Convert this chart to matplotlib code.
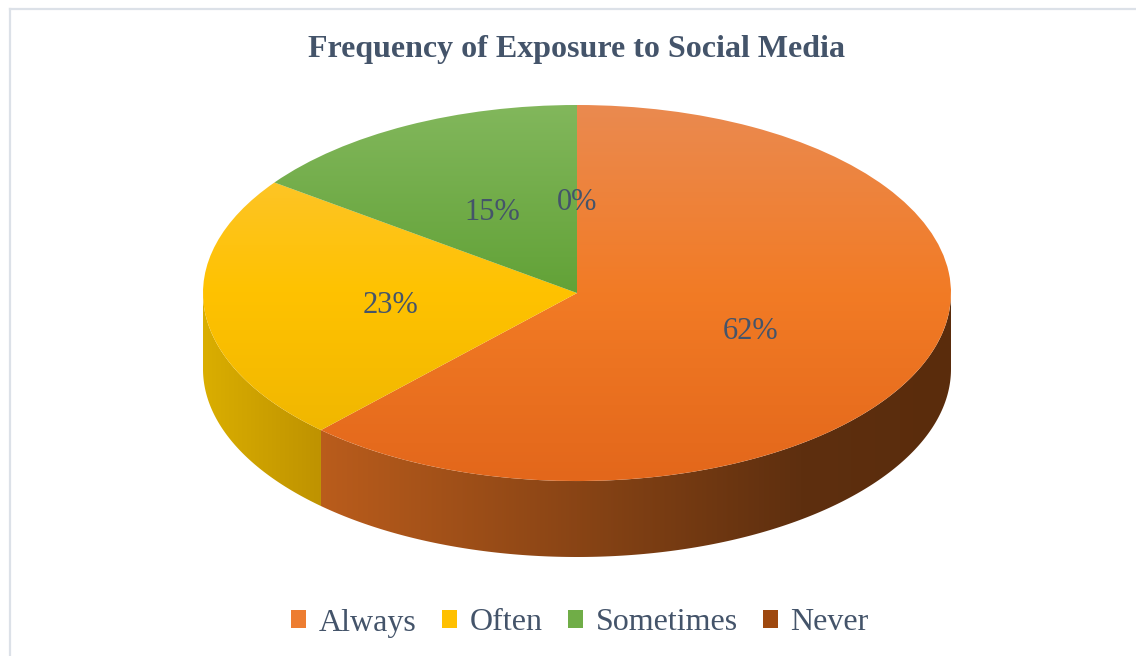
import matplotlib.pyplot as plt
import numpy as np
from matplotlib.colors import to_rgb, LinearSegmentedColormap
from matplotlib.patches import Polygon, Patch
from matplotlib.lines import Line2D

# survey answers (percent of respondents)
categories = ["Always", "Often", "Sometimes", "Never"]
shares = [62, 23, 15, 0]
colors = ["#ED7D31", "#FFC000", "#70AD47", "#9E480E"]
title = "Frequency of Exposure to Social Media"

text_color = "#44546A"
plt.rcParams["font.family"] = ["Liberation Serif", "DejaVu Serif"]

W, H = 1136, 656
fig = plt.figure(figsize=(W / 100, H / 100), dpi=100)

# pie is a unit circle squashed into an ellipse, with a wall of depth d below it
d = 0.404
ax = fig.add_axes([203 / W, (H - 557) / H, 748 / W, 452 / H])

wedges, _, autotexts = ax.pie(
    shares, colors=colors, startangle=90, counterclock=False,
    autopct="%.0f%%", pctdistance=0.5,
    wedgeprops=dict(linewidth=0),
    textprops=dict(color=text_color, fontsize=22),
)

# vertical shading on the top faces (top edge, centre line, front edge)
top_shades = {
    "Always": ["#EA8A50", "#F27B25", "#E3671B"],
    "Often": ["#FCC640", "#FFC200", "#EBB300"],
    "Sometimes": ["#82B75C", "#62A237", "#5A9A30"],
    "Never": ["#B0551A", "#9E480E", "#8A3E0C"],
}
for w, name in zip(wedges, categories):
    cmap = LinearSegmentedColormap.from_list("top", top_shades[name])
    grad = np.linspace(0, 1, 256).reshape(-1, 1)
    im = ax.imshow(grad, cmap=cmap, extent=(-1, 1, -1, 1), aspect="auto",
                   origin="upper", zorder=w.get_zorder())
    im.set_clip_path(w)
    w.set_facecolor("none")

# side walls: only the front half of the rim (angles between -180 and 0) shows
wall_stops = {
    "Always": [(-0.70, "#BB5D1C"), (0.60, "#5E2F0F"), (1.0, "#5A2C0C")],
    "Often": [(-1.0, "#DAAE00"), (-0.68, "#BE9200")],
    "Sometimes": [(-1.0, "#5E9A35"), (1.0, "#4A7A2A")],
    "Never": [(-1.0, "#9E480E"), (1.0, "#6A300A")],
}
fractions = np.array(shares) / np.sum(shares)
edges = 90 - 360 * np.concatenate([[0], np.cumsum(fractions)])
for i, name in enumerate(categories):
    a_start, a_end = edges[i + 1], edges[i]
    lo, hi = max(a_start, -180), min(a_end, 0)
    if hi <= lo:
        continue
    t = np.radians(np.linspace(lo, hi, 200))
    top = np.column_stack([np.cos(t), np.sin(t)])
    bottom = np.column_stack([np.cos(t), np.sin(t) - d])[::-1]
    poly = Polygon(np.vstack([top, bottom]), closed=True, fc="none", lw=0)
    ax.add_patch(poly)
    stops = wall_stops[name]
    xs = np.linspace(-1, 1, 512)
    pos = [s[0] for s in stops]
    rgb = np.array([to_rgb(s[1]) for s in stops])
    row = np.column_stack([np.interp(xs, pos, rgb[:, k]) for k in range(3)])
    im = ax.imshow(row[np.newaxis, :, :], extent=(-1, 1, -1 - d, 1),
                   aspect="auto", zorder=0.5)
    im.set_clip_path(poly)

ax.set_aspect("auto")
ax.set_xlim(-1, 1)
ax.set_ylim(-1 - d, 1)
ax.axis("off")
for t in autotexts:
    t.set_zorder(5)
    t.set_verticalalignment("center_baseline")

fig.text(576 / W, 1 - 49 / H, title, ha="center", va="center",
         fontsize=23, fontweight="bold", color=text_color)

handles = [Patch(facecolor=c, edgecolor="none") for c in colors]
leg = fig.legend(handles, categories, loc="center", ncol=4,
                 bbox_to_anchor=(580 / W, 1 - 623 / H), frameon=False,
                 fontsize=23, handlelength=0.48, handleheight=0.48,
                 handletextpad=0.38, columnspacing=0.8)
for txt in leg.get_texts():
    txt.set_color(text_color)

# chart area border (top and left edges)
border = "#DCE1E8"
fig.add_artist(Line2D([10 / W, 1], [1 - 9 / H, 1 - 9 / H], color=border, lw=1.6))
fig.add_artist(Line2D([10 / W, 10 / W], [0, 1 - 9 / H], color=border, lw=1.6))

fig.savefig("out.png", dpi=100)
